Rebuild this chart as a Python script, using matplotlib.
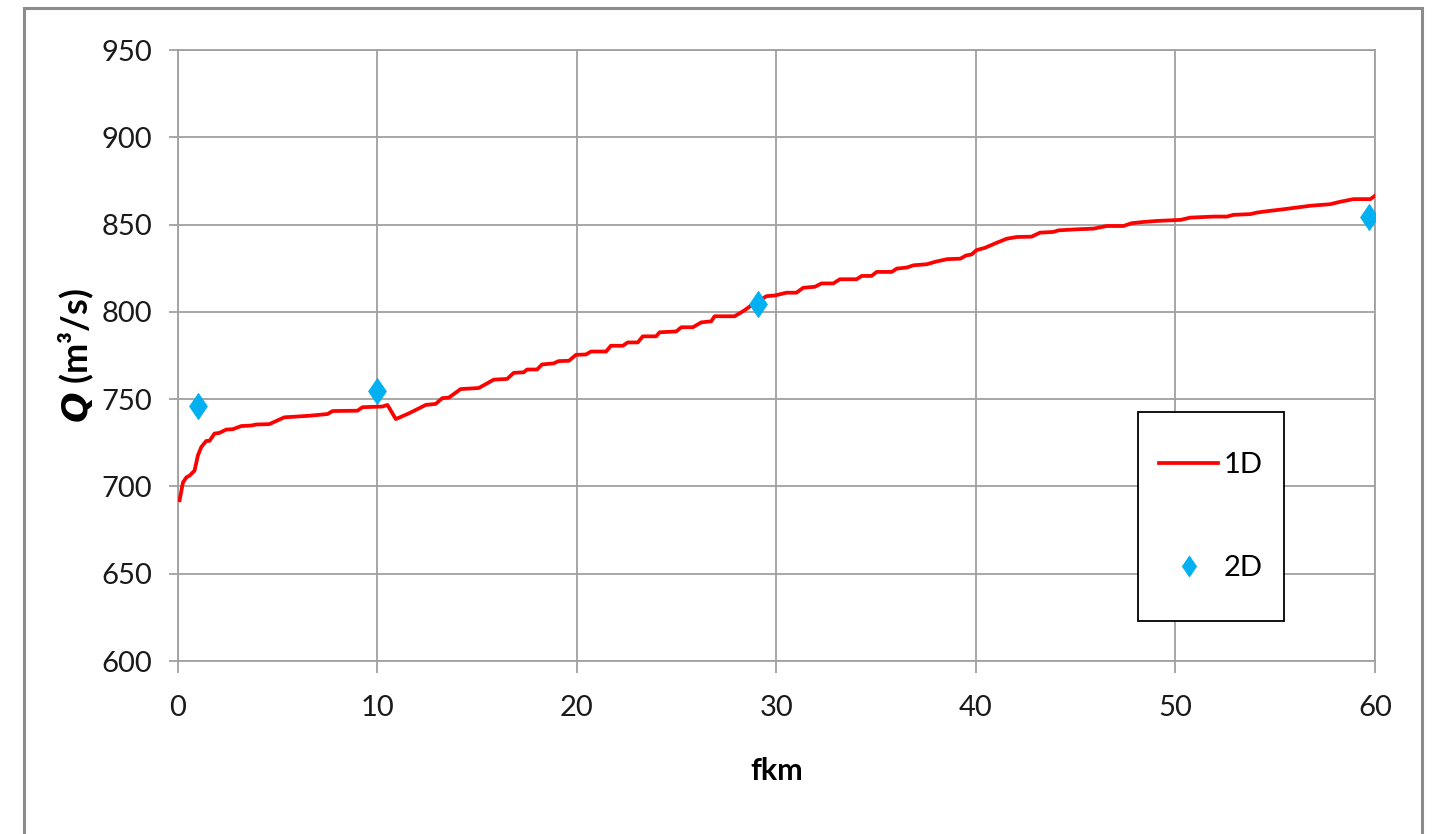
import matplotlib
matplotlib.use("Agg")
import matplotlib.pyplot as plt
from matplotlib.patches import Rectangle
from matplotlib.path import Path

plt.rcParams['font.family'] = ['Lato', 'DejaVu Sans']

# 1D model discharge along the river (fkm, m3/s)
fkm_1d = [0.08, 0.25, 0.42, 0.58, 0.83, 1.0, 1.17, 1.42, 1.58, 1.83, 2.08, 2.42, 2.75,
          3.17, 3.67, 3.92, 4.58, 5.33, 6.58, 7.5, 7.75, 9.0, 9.25, 10.25, 10.5, 10.92,
          11.58, 12.42, 12.92, 13.25, 13.58, 14.17, 15.08, 15.83, 16.5, 16.83, 17.33,
          17.5, 18.0, 18.25, 18.83, 19.08, 19.6, 19.95, 20.45, 20.7, 21.46, 21.7, 22.3,
          22.54, 23.05, 23.3, 23.97, 24.14, 24.98, 25.23, 25.81, 26.23, 26.73, 26.9,
          27.9, 28.33, 28.8, 29.5, 29.92, 30.5, 31.0, 31.34, 31.93, 32.26, 32.85, 33.18,
          34.02, 34.27, 34.77, 35.02, 35.78, 36.03, 36.53, 36.87, 37.54, 37.96, 38.55,
          39.22, 39.5, 39.78, 40.03, 40.45, 41.04, 41.54, 42.04, 42.79, 43.21, 43.88,
          44.13, 45.05, 45.89, 46.56, 47.39, 47.8, 48.39, 49.06, 50.25, 50.74, 51.91,
          52.58, 52.91, 53.75, 54.08, 54.75, 55.42, 56.09, 56.76, 57.76, 58.26, 58.93,
          59.77, 60.0]
q_1d = [692.1, 702.3, 705.2, 706.2, 709.1, 717.8, 722.6, 726.1, 726.1, 730.3, 730.7,
        732.6, 732.8, 734.6, 734.9, 735.5, 735.7, 739.6, 740.5, 741.5, 743.2, 743.4,
        745.4, 745.8, 746.7, 738.6, 741.9, 746.7, 747.3, 750.6, 750.9, 755.8, 756.4,
        761.2, 761.6, 765.1, 765.4, 767.0, 767.0, 769.9, 770.5, 771.8, 772.0, 775.4,
        775.6, 777.3, 777.3, 780.6, 780.6, 782.5, 782.5, 786.0, 786.0, 788.3, 788.8,
        791.2, 791.2, 794.0, 794.6, 797.5, 797.5, 800.4, 804.2, 809.0, 809.4, 811.0,
        811.0, 813.8, 814.4, 816.3, 816.3, 818.7, 818.7, 820.6, 820.6, 822.9, 822.9,
        824.8, 825.4, 826.7, 827.3, 828.7, 830.2, 830.5, 832.3, 832.9, 835.4, 836.7,
        839.6, 841.9, 842.9, 843.1, 845.4, 845.8, 846.7, 847.3, 847.7, 849.2, 849.2,
        850.8, 851.5, 852.1, 852.7, 854.0, 854.6, 854.6, 855.6, 856.0, 856.9, 857.9,
        858.8, 859.8, 860.8, 861.7, 863.1, 864.6, 864.6, 866.5]

# 2D model results at selected sections
fkm_2d = [1.0, 10.0, 29.05, 59.7]
q_2d = [746.1, 754.8, 804.6, 854.4]

# diamond a bit wider than matplotlib's thin diamond
diamond = Path([(0, 1), (0.68, 0), (0, -1), (-0.68, 0), (0, 1)],
               [Path.MOVETO, Path.LINETO, Path.LINETO, Path.LINETO, Path.CLOSEPOLY])

fig = plt.figure(figsize=(14.33, 8.34), dpi=100)
ax = fig.add_axes([0.1242, 0.2074, 0.8353, 0.7326])

ax.plot(fkm_1d, q_1d, color='#FF0000', lw=2.7, label='1D', zorder=3)
ax.plot(fkm_2d, q_2d, ls='none', marker=diamond, ms=19, color='#00B0F0',
        mec='#00B0F0', mew=0.5, label='2D', zorder=4)

ax.set_xlim(0, 60)
ax.set_ylim(600, 950)
ax.set_xticks(range(0, 61, 10))
ax.set_yticks(range(600, 951, 50))
ax.grid(True, color='#A0A0A0', lw=1.3)
ax.set_axisbelow(True)
for sp in ax.spines.values():
    sp.set_color('#A0A0A0')
    sp.set_linewidth(1.3)
ax.tick_params(axis='both', colors='#A0A0A0', labelcolor='#1a1a1a',
               labelsize=21, width=1.3)
ax.tick_params(axis='y', length=6.5, pad=12)
ax.tick_params(axis='x', length=8.5, pad=16)

ax.set_xlabel('fkm', fontsize=22, fontweight='bold', labelpad=26)
ax.set_ylabel(r'$\mathbfit{Q}$ (m³/s)', fontsize=26, fontweight='bold', labelpad=4)

# legend box: tall frame drawn separately, entries centred inside
lx0, lx1, ly0, ly1 = 0.802, 0.924, 0.0655, 0.4075
ax.add_patch(Rectangle((lx0, ly0), lx1 - lx0, ly1 - ly0, transform=ax.transAxes,
                       facecolor='white', edgecolor='black', lw=1.3, zorder=5))
leg = ax.legend(loc='center', bbox_to_anchor=((lx0 + lx1) / 2, (ly0 + ly1) / 2),
                fontsize=21, frameon=False, labelspacing=2.64, handlelength=2.0,
                handletextpad=0.2, borderpad=0, borderaxespad=0, markerscale=0.8)
leg.set_zorder(6)

# outer chart border
fig.patches.append(Rectangle((24 / 1433, -0.02), 1398 / 1433, 1.02 - 8 / 834,
                             transform=fig.transFigure, fill=False,
                             edgecolor='#8C8C8C', lw=2.2))

fig.savefig('out.png', dpi=100)
